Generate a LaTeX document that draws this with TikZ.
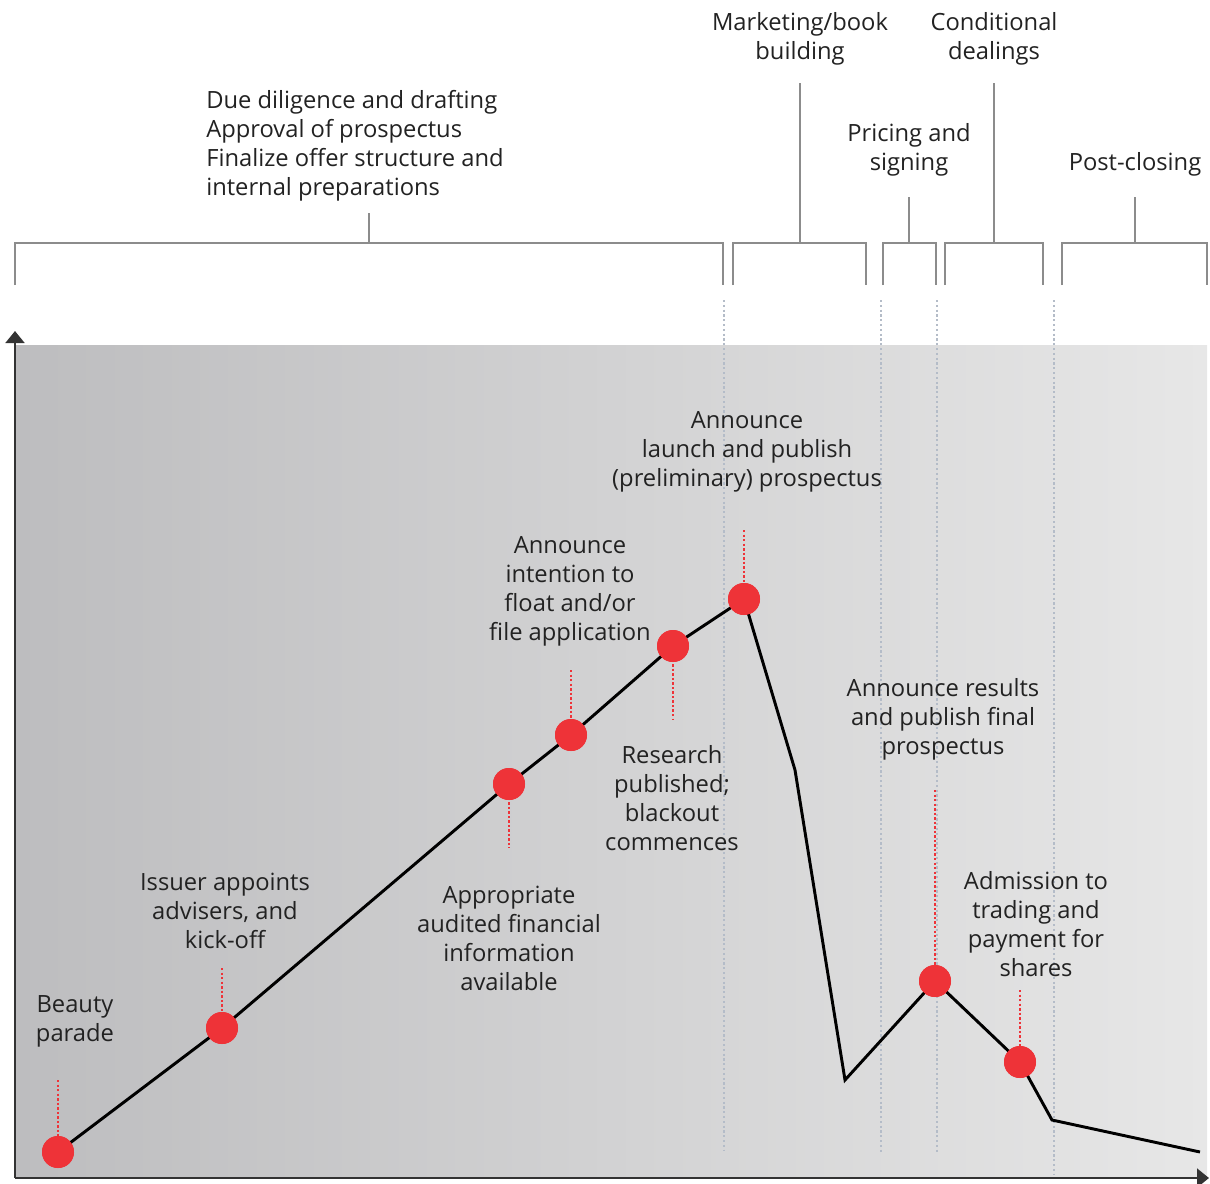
\documentclass[tikz,border=0pt]{standalone}
\usepackage{fontspec}
\setmainfont{Open Sans}
\usetikzlibrary{arrows.meta}

\definecolor{inkgray}{HTML}{222222}
\definecolor{axisgray}{HTML}{333333}
\definecolor{bracketgray}{HTML}{8C8C8C}
\definecolor{gridgray}{HTML}{B4BCC8}
\definecolor{dotred}{HTML}{EE3338}
\definecolor{shadeleft}{HTML}{BDBDBF}
\definecolor{shaderight}{HTML}{E7E7E7}

\begin{document}
\begin{tikzpicture}[x=0.75pt,y=-0.75pt,
  lbl/.style={text=inkgray,align=center,inner sep=0pt,
    font=\fontsize{17.8}{21.75}\selectfont},
  bracket/.style={draw=bracketgray,line width=1.8pt},
  phase/.style={draw=gridgray,line width=1.6pt,dash pattern=on 1.6pt off 2pt},
  stem/.style={draw=dotred,line width=2pt,dash pattern=on 1.8pt off 1.6pt},
  event/.style={circle,fill=dotred,minimum size=24pt,inner sep=0pt},
  axis/.style={draw=axisgray,line width=2.2pt,-{Triangle[width=14pt,length=9pt]}}
]
\useasboundingbox (0,0) rectangle (1210,1183);

% background and phase separators
\shade[left color=shadeleft,right color=shaderight] (15,345) rectangle (1207,1178);
\draw[phase] (724,300) -- (724,1150);
\draw[phase] (881,300) -- (881,1153);
\draw[phase] (937,300) -- (937,1153);
\draw[phase] (1054,300) -- (1054,1175);

% axes
\draw[axis] (15,1178) -- (15,331);
\draw[axis] (15,1178) -- (1209,1178);

% brackets
\draw[bracket] (15,285) -- (15,243) -- (723,243) -- (723,285);
\draw[bracket] (369,243) -- (369,213);
\draw[bracket] (733,285) -- (733,243) -- (866,243) -- (866,285);
\draw[bracket] (800,243) -- (800,83);
\draw[bracket] (883,285) -- (883,243) -- (936,243) -- (936,285);
\draw[bracket] (909,243) -- (909,197);
\draw[bracket] (945,285) -- (945,243) -- (1043,243) -- (1043,285);
\draw[bracket] (994,243) -- (994,83);
\draw[bracket] (1062,285) -- (1062,243) -- (1207,243) -- (1207,285);
\draw[bracket] (1135,243) -- (1135,197);

% phase labels
\node[lbl,align=left,anchor=north west] (prep) at (206,90) {Due diligence and drafting\\Approval of prospectus\\Finalize offer structure and\\internal preparations};
\node[lbl] (mkt) at (800,39) {Marketing/book\\building};
\node[lbl] (cond) at (994,39) {Conditional\\dealings};
\node[lbl] (price) at (909,150) {Pricing and\\signing};
\node[lbl] (post) at (1135,164) {Post-closing};

% events on the timeline
\coordinate (c1) at (795,770);
\coordinate (c2) at (845,1080);
\coordinate (c3) at (1052,1120);
\coordinate (c4) at (1200,1152);
\node[event] (beauty) at (58,1152) {};
\node[event] (appoint) at (222,1028) {};
\node[event] (audit) at (509,784) {};
\node[event] (research) at (571,735) {};
\node[event] (itf) at (673,646) {};
\node[event] (launch) at (744,599) {};
\node[event] (results) at (935,981) {};
\node[event] (admit) at (1020,1062) {};

\draw[stem] (58,1080) -- (beauty.center);
\draw[stem] (222,968) -- (appoint.center);
\draw[stem] (audit.center) -- (509,848);
\draw[stem] (571,670) -- (research.center);
\draw[stem] (itf.center) -- (673,720);
\draw[stem] (744,530) -- (launch.center);
\draw[stem] (935,790) -- (results.center);
\draw[stem] (1020,990) -- (admit.center);

\draw[black,line width=2.2pt,line join=miter]
  (beauty.center) -- (appoint.center) -- (audit.center) -- (research.center)
  -- (itf.center) -- (launch.center) -- (c1) -- (c2) -- (results.center)
  -- (admit.center) -- (c3) -- (c4);

\foreach \e in {beauty,appoint,audit,research,itf,launch,results,admit}
  \node[event] at (\e) {};

% event labels
\node[lbl] (tbeauty) at (75,1021) {Beauty\\parade};
\node[lbl] (tappoint) at (225,911) {Issuer appoints\\advisers, and\\kick-off};
\node[lbl] (taudit) at (509,938) {Appropriate\\audited financial\\information\\available};
\node[lbl] (titf) at (570,591) {Announce\\intention to\\float and/or\\file application};
\node[lbl] (tresearch) at (672,798) {Research\\published;\\blackout\\commences};
\node[lbl] (tlaunch) at (747,452) {Announce\\launch and publish\\(preliminary) prospectus};
\node[lbl] (tresults) at (943,719) {Announce results\\and publish final\\prospectus};
\node[lbl] (tadmit) at (1036,924) {Admission to\\trading and\\payment for\\shares};
\end{tikzpicture}
\end{document}
